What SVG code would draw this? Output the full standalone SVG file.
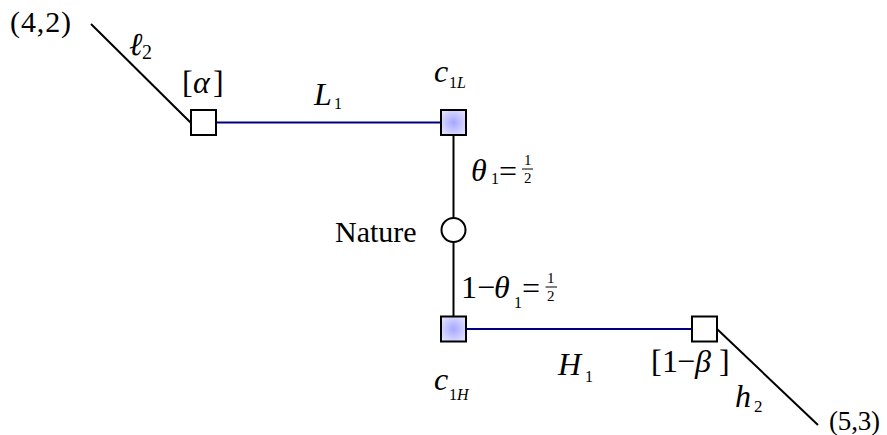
<svg xmlns="http://www.w3.org/2000/svg" width="887" height="435" viewBox="0 0 887 435">
<defs>
<radialGradient id="blueFill" cx="50%" cy="50%" r="60%">
<stop offset="0%" stop-color="#a6a6ff"/>
<stop offset="100%" stop-color="#e2e2ff"/>
</radialGradient>
<style>
text{font-family:"Liberation Serif","Times New Roman",serif;fill:#000}
.m{font-size:32px}
.i{font-style:italic}
.s{font-size:16px}
.f{font-size:15px}
.n{font-size:30px}
.box{stroke:#000;stroke-width:2;fill:#fff}
.chance{fill:url(#blueFill)}
.edge{stroke:#000;stroke-width:2;fill:none}
.blue{stroke:#00007f;stroke-width:2;fill:none}
.bar{stroke:#000;stroke-width:1}
</style>
</defs>
<rect width="887" height="435" fill="#fff"/>
<g id="connectors">
<line class="edge" x1="91" y1="24" x2="191" y2="123"/>
<line class="blue" x1="216" y1="122.5" x2="441" y2="122.5"/>
<line class="edge" x1="453.5" y1="135" x2="453.5" y2="316"/>
<line class="blue" x1="466" y1="329" x2="692" y2="329"/>
<line class="edge" x1="717" y1="329" x2="818" y2="425"/>
</g>
<g id="node-alpha">
<rect class="box" x="191" y="110" width="25" height="25"/>
<text class="m" x="182" y="93">[</text>
<text class="m i" x="193" y="93" font-size="34">α</text>
<text class="m" x="213" y="93">]</text>
</g>
<g id="node-c1L">
<rect class="box chance" x="441" y="110" width="25" height="25"/>
<text class="m i" x="434" y="82" font-size="34">c</text>
<text class="s" x="449" y="88">1<tspan class="i">L</tspan></text>
</g>
<g id="node-nature">
<circle class="box" cx="453.5" cy="230" r="12"/>
<text class="n" x="335" y="242">Nature</text>
</g>
<g id="node-c1H">
<rect class="box chance" x="441" y="316.5" width="25" height="25"/>
<text class="m i" x="434" y="390" font-size="34">c</text>
<text class="s" x="449" y="400">1<tspan class="i">H</tspan></text>
</g>
<g id="node-beta">
<rect class="box" x="692" y="316.5" width="25" height="25"/>
<text class="m" x="651" y="372">[</text>
<text class="m" x="662" y="372">1</text>
<text class="m" x="677" y="372" font-size="26">−</text>
<text class="m i" x="695" y="372" font-size="36">β</text>
<text class="m" x="719" y="372">]</text>
</g>
<g id="labels">
<text class="n" x="10" y="32" textLength="61" lengthAdjust="spacing">(4,2)</text>
<text font-size="27" x="829" y="430" textLength="51" lengthAdjust="spacing">(5,3)</text>
<text class="m i" x="129" y="55">ℓ</text>
<text font-size="20" x="142" y="59">2</text>
<text class="m i" x="314" y="105">L</text>
<text class="s" x="334" y="109">1</text>
<text class="m i" x="471" y="181" font-size="37">θ</text>
<text class="s" x="491" y="184">1</text>
<text class="m" x="499" y="182" font-size="37">=</text>
<text class="f" x="524" y="165">1</text>
<line class="bar" x1="522" y1="169" x2="533" y2="169"/>
<text class="f" x="524" y="183">2</text>
<text class="m" x="461" y="298">1</text>
<text class="m" x="477" y="298" font-size="26">−</text>
<text class="m i" x="494" y="298" font-size="37">θ</text>
<text class="s" x="514" y="308">1</text>
<text class="m" x="522" y="299" font-size="37">=</text>
<text class="f" x="547" y="283">1</text>
<line class="bar" x1="545.5" y1="287" x2="557" y2="287"/>
<text class="f" x="547" y="301">2</text>
<text class="m i" x="558" y="375">H</text>
<text class="s" x="585" y="382">1</text>
<text class="m i" x="735" y="407">h</text>
<text font-size="17" x="754" y="412">2</text>
</g>
</svg>
